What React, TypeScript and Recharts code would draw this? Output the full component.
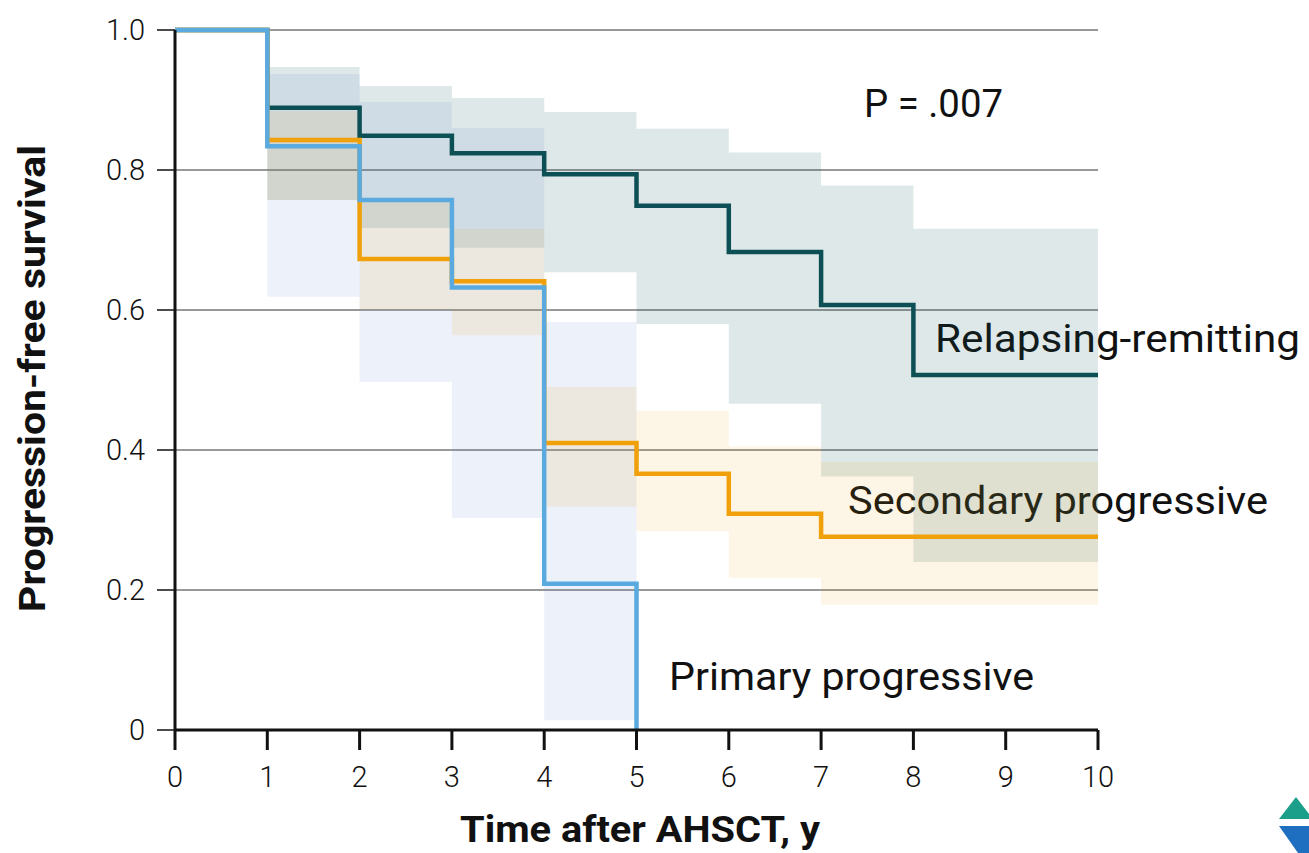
import React from 'react';
import { ComposedChart, Line, Area, XAxis, YAxis, CartesianGrid } from 'recharts';

// years after AHSCT
const years = [0, 1, 2, 3, 4, 5, 6, 7, 8, 9, 10];

// Kaplan-Meier estimates
const relapsingRemitting = [1, 0.889, 0.849, 0.824, 0.794, 0.749, 0.683, 0.607, 0.507, 0.507, 0.507];
const secondaryProgressive = [1, 0.843, 0.673, 0.641, 0.41, 0.366, 0.309, 0.276, 0.276, 0.276, 0.276];
const primaryProgressive = [1, 0.834, 0.757, 0.632, 0.209, 0, null, null, null, null, null];

// confidence bands (lower / upper)
const rrLow = [null, 0.757, 0.717, 0.689, 0.654, 0.58, 0.466, 0.362, 0.24, 0.24, 0.24];
const rrHigh = [null, 0.947, 0.92, 0.903, 0.883, 0.859, 0.825, 0.778, 0.716, 0.716, 0.716];
const spLow = [null, 0.757, 0.6, 0.564, 0.319, 0.284, 0.217, 0.179, 0.179, 0.179, 0.179];
const spHigh = [null, 0.884, 0.757, 0.716, 0.49, 0.456, 0.405, 0.383, 0.383, 0.383, 0.383];
const ppLow = [null, 0.619, 0.497, 0.303, 0.014, 0.014, null, null, null, null, null];
const ppHigh = [null, 0.937, 0.897, 0.86, 0.583, 0.583, null, null, null, null, null];

const xTicks = [0, 1, 2, 3, 4, 5, 6, 7, 8, 9, 10];
const yTicks = [0, 0.2, 0.4, 0.6, 0.8, 1];

const TEAL = '#0c5056';
const ORANGE = '#f0a00a';
const BLUE = '#5aaae0';
const FONT = 'Roboto, "Open Sans", sans-serif';

const rows = years.map((t, i) => ({
  t,
  rr: relapsingRemitting[i],
  sp: secondaryProgressive[i],
  pp: primaryProgressive[i],
  rrBand: rrLow[i] == null ? null : [rrLow[i], rrHigh[i]],
  spBand: spLow[i] == null ? null : [spLow[i], spHigh[i]],
  ppBand: ppLow[i] == null ? null : [ppLow[i], ppHigh[i]],
}));

const tickStyle = { fontSize: 29, fill: '#111', fontFamily: FONT, fontWeight: 300 };

export default function App() {
  return (
    <div style={{ position: 'absolute', left: 0, top: 0, width: 1309, height: 853, background: '#fff' }}>
      <ComposedChart
        width={1309}
        height={853}
        data={rows}
        margin={{ top: 30, right: 211, bottom: 0, left: 0 }}
      >
        <CartesianGrid vertical={false} stroke="#333" strokeWidth={1} />
        <Area
          dataKey="rrBand"
          type="stepAfter"
          stroke="none"
          fill="#1a5a5f"
          fillOpacity={0.14}
          activeDot={false}
          isAnimationActive={false}
        />
        <Area
          dataKey="ppBand"
          type="stepAfter"
          stroke="none"
          fill="#6d8fd8"
          fillOpacity={0.12}
          activeDot={false}
          isAnimationActive={false}
        />
        <Area
          dataKey="spBand"
          type="stepAfter"
          stroke="none"
          fill="#f0a000"
          fillOpacity={0.1}
          activeDot={false}
          isAnimationActive={false}
        />
        <XAxis
          dataKey="t"
          type="number"
          domain={[0, 10]}
          ticks={xTicks}
          height={123}
          tickSize={20}
          tickMargin={16}
          axisLine={{ stroke: '#111', strokeWidth: 3 }}
          tickLine={{ stroke: '#111', strokeWidth: 3 }}
          tick={tickStyle}
        />
        <YAxis
          type="number"
          domain={[0, 1]}
          ticks={yTicks}
          width={175}
          tickSize={18}
          tickMargin={12}
          axisLine={{ stroke: '#111', strokeWidth: 3 }}
          tickLine={{ stroke: '#111', strokeWidth: 1.5 }}
          tick={tickStyle}
          tickFormatter={(v: number) => (v === 0 ? '0' : v.toFixed(1))}
        />
        <Line dataKey="rr" type="stepAfter" stroke={TEAL} strokeWidth={4.5} dot={false} activeDot={false} isAnimationActive={false} />
        <Line dataKey="sp" type="stepAfter" stroke={ORANGE} strokeWidth={4.5} dot={false} activeDot={false} isAnimationActive={false} />
        <Line dataKey="pp" type="stepAfter" stroke={BLUE} strokeWidth={4.5} dot={false} activeDot={false} isAnimationActive={false} />

        <text x={864} y={117} fontSize={38} fontFamily={FONT} fill="#111" textLength={139} lengthAdjust="spacingAndGlyphs">P = .007</text>
        <text x={935} y={352} fontSize={38} fontFamily={FONT} fill="#111" textLength={365} lengthAdjust="spacingAndGlyphs">Relapsing-remitting</text>
        <text x={848} y={514} fontSize={38} fontFamily={FONT} fill="#111" textLength={420} lengthAdjust="spacingAndGlyphs">Secondary progressive</text>
        <text x={669} y={690} fontSize={38} fontFamily={FONT} fill="#111" textLength={365} lengthAdjust="spacingAndGlyphs">Primary progressive</text>

        <text x={460} y={842} fontSize={36} fontWeight={700} fontFamily={FONT} fill="#111" textLength={360} lengthAdjust="spacingAndGlyphs">Time after AHSCT, y</text>
        <text
          transform="rotate(-90)"
          x={-612}
          y={45}
          fontSize={37}
          fontWeight={700}
          fontFamily={FONT}
          fill="#111"
          textLength={467}
          lengthAdjust="spacingAndGlyphs"
        >
          Progression-free survival
        </text>

        <polygon points="1279,819 1296,797 1309,814 1309,819" fill="#1b9e8a" />
        <polygon points="1279,826 1309,826 1309,853 1298,853" fill="#1e6fc0" />
      </ComposedChart>
    </div>
  );
}
